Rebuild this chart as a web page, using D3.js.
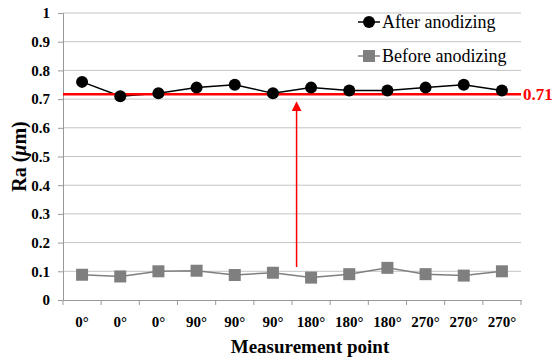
<!DOCTYPE html>
<html>
<head>
<meta charset="utf-8">
<script src="https://cdn.jsdelivr.net/npm/d3@7"></script>
<style>
  body { margin: 0; background: #fff; }
  svg, svg text { font-family: 'Liberation Serif', 'Times New Roman', serif; }
</style>
</head>
<body>
<div id="chart"></div>
<script>
const categories = ['0°', '0°', '0°', '90°', '90°', '90°', '180°', '180°', '180°', '270°', '270°', '270°'];
const afterValues = [0.76, 0.71, 0.72, 0.74, 0.75, 0.72, 0.74, 0.73, 0.73, 0.74, 0.75, 0.73];
const beforeValues = [0.088, 0.082, 0.1, 0.102, 0.087, 0.095, 0.078, 0.09, 0.112, 0.09, 0.085, 0.1];
const yTicks = [0, 0.1, 0.2, 0.3, 0.4, 0.5, 0.6, 0.7, 0.8, 0.9, 1];
const avgValue = 0.717;
const avgLabel = '0.71';
// arrow from the "before" level up to the average line, drawn between 90° and 180°
const arrowAt = 5.62;
const arrowFrom = 0.115;
const arrowTo = 0.675;

const width = 555, height = 360;
const margin = { top: 13, right: 34, bottom: 60, left: 63 };
const innerW = width - margin.left - margin.right;
const innerH = height - margin.top - margin.bottom;

const svg = d3.select('#chart').append('svg')
  .attr('width', width)
  .attr('height', height);

const g = svg.append('g')
  .attr('transform', 'translate(' + margin.left + ',' + margin.top + ')');

const x = d3.scaleBand()
  .domain(d3.range(categories.length))
  .range([0, innerW]);

// continuous version of x, in category index units
const xi = d3.scaleLinear()
  .domain([-0.5, categories.length - 0.5])
  .range([0, innerW]);

const y = d3.scaleLinear()
  .domain([0, 1])
  .range([innerH, 0]);

// gridlines
g.append('g')
  .selectAll('line')
  .data(yTicks.filter(d => d > 0))
  .enter().append('line')
  .attr('x1', 0)
  .attr('x2', innerW)
  .attr('y1', d => y(d))
  .attr('y2', d => y(d))
  .attr('stroke', '#c4c4c4')
  .attr('stroke-width', 1);

// y axis
const yAxis = g.append('g')
  .call(d3.axisLeft(y).tickValues(yTicks).tickFormat(d => d3.format('')(d)).tickSize(5).tickPadding(8))
  .style('font-family', "'Liberation Serif', serif");
yAxis.select('.domain').attr('stroke', '#999');
yAxis.selectAll('.tick line').attr('stroke', '#999');
yAxis.selectAll('.tick text')
  .attr('font-size', 15)
  .attr('font-weight', 'bold')
  .attr('fill', '#000');

// x axis
const xAxis = g.append('g')
  .attr('transform', 'translate(0,' + innerH + ')')
  .call(d3.axisBottom(x).tickSize(0).tickFormat(i => categories[i]).tickPadding(16))
  .style('font-family', "'Liberation Serif', serif");
xAxis.select('.domain').attr('stroke', '#999');
xAxis.selectAll('.tick text')
  .attr('font-size', 15)
  .attr('font-weight', 'bold')
  .attr('fill', '#000');

g.append('g')
  .selectAll('line')
  .data(d3.range(categories.length + 1))
  .enter().append('line')
  .attr('x1', d => xi(d - 0.5))
  .attr('x2', d => xi(d - 0.5))
  .attr('y1', innerH)
  .attr('y2', innerH + 5)
  .attr('stroke', '#999');

const lineGen = d3.line()
  .x((d, i) => x(i) + x.bandwidth() / 2)
  .y(d => y(d));

// before anodizing
g.append('path')
  .datum(beforeValues)
  .attr('fill', 'none')
  .attr('stroke', '#7f7f7f')
  .attr('stroke-width', 1.5)
  .attr('d', lineGen);

g.selectAll('.sq')
  .data(beforeValues)
  .enter().append('rect')
  .attr('class', 'sq')
  .attr('x', (d, i) => x(i) + x.bandwidth() / 2 - 6)
  .attr('y', d => y(d) - 6)
  .attr('width', 12)
  .attr('height', 12)
  .attr('fill', '#7f7f7f');

// after anodizing
g.append('path')
  .datum(afterValues)
  .attr('fill', 'none')
  .attr('stroke', '#000')
  .attr('stroke-width', 1.5)
  .attr('d', lineGen);

// average line
g.append('line')
  .attr('x1', 0)
  .attr('x2', innerW)
  .attr('y1', y(avgValue))
  .attr('y2', y(avgValue))
  .attr('stroke', '#ff0000')
  .attr('stroke-width', 2.5);

g.selectAll('.dot')
  .data(afterValues)
  .enter().append('circle')
  .attr('class', 'dot')
  .attr('cx', (d, i) => x(i) + x.bandwidth() / 2)
  .attr('cy', d => y(d))
  .attr('r', 6)
  .attr('fill', '#000');

g.append('text')
  .attr('x', innerW + 2)
  .attr('y', y(avgValue) + 6)
  .attr('fill', '#ff0000')
  .attr('font-size', 17)
  .attr('font-weight', 'bold')
  .text(avgLabel);

// arrow
svg.append('defs').append('marker')
  .attr('id', 'head')
  .attr('viewBox', '0 0 10 10')
  .attr('refX', 5)
  .attr('refY', 5)
  .attr('markerWidth', 10)
  .attr('markerHeight', 10)
  .attr('markerUnits', 'userSpaceOnUse')
  .attr('orient', 'auto')
  .append('path')
  .attr('d', 'M0,0 L10,5 L0,10 Z')
  .attr('fill', '#ff0000');

g.append('line')
  .attr('x1', xi(arrowAt))
  .attr('x2', xi(arrowAt))
  .attr('y1', y(arrowFrom))
  .attr('y2', y(arrowTo))
  .attr('stroke', '#ff0000')
  .attr('stroke-width', 1.5)
  .attr('marker-end', 'url(#head)');

// legend
const legend = [
  { name: 'After anodizing', color: '#000', shape: 'circle' },
  { name: 'Before anodizing', color: '#7f7f7f', shape: 'square' }
];
const lg = svg.append('g').attr('transform', 'translate(358, 22)');
legend.forEach((d, i) => {
  const row = lg.append('g').attr('transform', 'translate(0,' + (i * 34) + ')');
  row.append('line')
    .attr('x1', 0).attr('x2', 22)
    .attr('stroke', d.color).attr('stroke-width', 1.5);
  if (d.shape === 'circle') {
    row.append('circle').attr('cx', 11).attr('r', 6).attr('fill', d.color);
  } else {
    row.append('rect').attr('x', 5).attr('y', -6).attr('width', 12).attr('height', 12).attr('fill', d.color);
  }
  row.append('text')
    .attr('x', 24)
    .attr('y', 6)
    .attr('font-size', 18)
    .attr('fill', '#000')
    .text(d.name);
});

// axis titles
const yTitle = svg.append('text')
  .attr('transform', 'translate(26,' + (margin.top + innerH / 2) + ') rotate(-90)')
  .attr('text-anchor', 'middle')
  .attr('font-size', 20)
  .attr('font-weight', 'bold');
yTitle.append('tspan').text('Ra (');
yTitle.append('tspan').attr('font-style', 'italic').text('μ');
yTitle.append('tspan').text('m)');

svg.append('text')
  .attr('x', 310)
  .attr('y', 353)
  .attr('text-anchor', 'middle')
  .attr('font-size', 19)
  .attr('font-weight', 'bold')
  .text('Measurement point');
</script>
</body>
</html>
